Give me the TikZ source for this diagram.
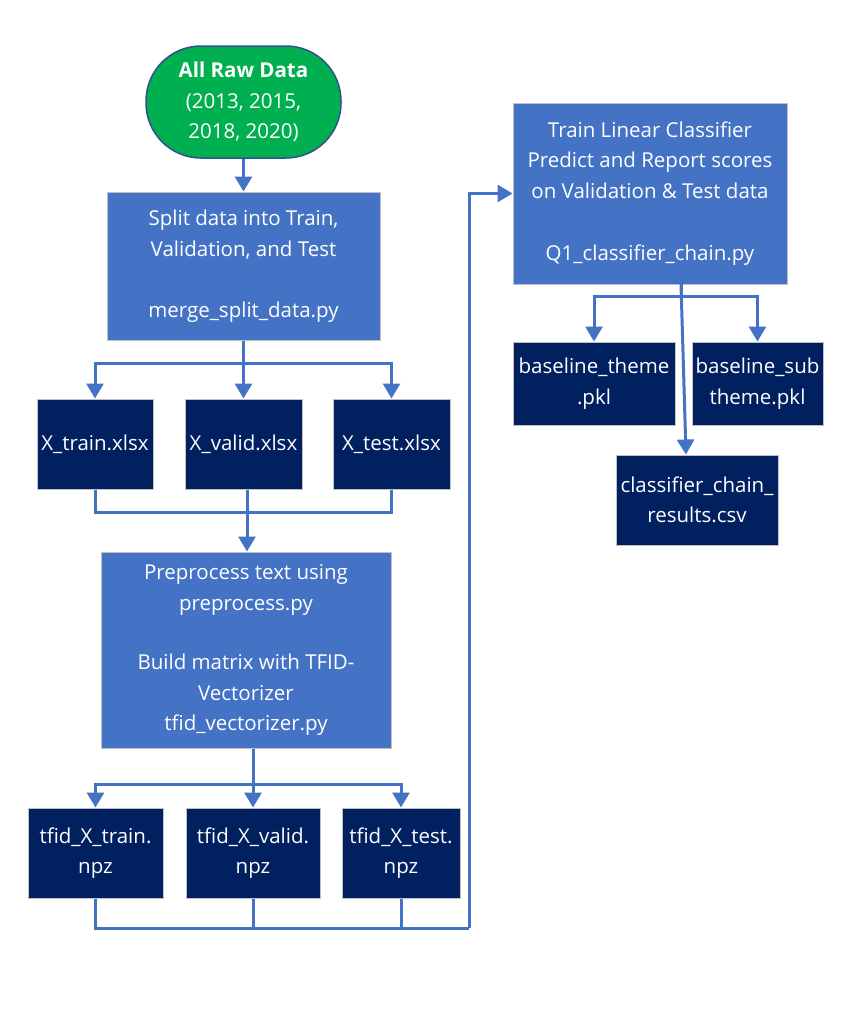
\documentclass[tikz,border=0pt]{standalone}
\usepackage{fontspec}
\setmainfont{Open Sans}
\usetikzlibrary{arrows.meta}
\definecolor{midblue}{HTML}{4472C4}
\definecolor{navy}{HTML}{002060}
\definecolor{greenfill}{HTML}{00B050}
\definecolor{stadborder}{HTML}{2F528F}
\definecolor{boxborder}{HTML}{C0C0C0}
\tikzset{
  txt/.style={text=white, align=center, font=\fontsize{20.5}{30.5}\selectfont, inner sep=0pt},
  startbox/.style={txt, draw=stadborder, line width=1.5pt, fill=greenfill, rounded corners=55pt},
  procbox/.style={txt, draw=boxborder, line width=1pt, fill=midblue},
  filebox/.style={txt, draw=boxborder, line width=1pt, fill=navy},
  conn/.style={draw=midblue, line width=3pt},
  arr/.style={conn, -{Triangle[width=17pt,length=15pt]}},
}
\begin{document}
\begin{tikzpicture}[x=1pt,y=-1pt]
\useasboundingbox[fill=white] (0,0) rectangle (850,1028);

% nodes
\node[startbox, minimum width=195pt, minimum height=112pt] (raw) at (243.5,102) {\textbf{All Raw Data}\\(2013, 2015,\\2018, 2020)};
\node[procbox, minimum width=273pt, minimum height=148pt] (split) at (243.5,266) {Split data into Train,\\Validation, and Test\\[30.5pt]merge\_split\_data.py};
\node[filebox, minimum width=116pt, minimum height=90pt] (xtrain) at (95,444) {X\_train.xlsx};
\node[filebox, minimum width=117pt, minimum height=90pt] (xvalid) at (243.5,444) {X\_valid.xlsx};
\node[filebox, minimum width=117pt, minimum height=90pt] (xtest) at (391.5,444) {X\_test.xlsx};
\node[procbox, minimum width=290pt, minimum height=196pt] (prep) at (246,650) {Preprocess text using\\preprocess.py\\[29pt]Build matrix with TFID-\\Vectorizer\\tfid\_vectorizer.py};
\node[filebox, minimum width=135pt, minimum height=90pt] (ttrain) at (95.5,853) {tfid\_X\_train.\\npz};
\node[filebox, minimum width=134pt, minimum height=90pt] (tvalid) at (253,853) {tfid\_X\_valid.\\npz};
\node[filebox, minimum width=118pt, minimum height=90pt] (ttest) at (401,853) {tfid\_X\_test.\\npz};
\node[procbox, minimum width=274pt, minimum height=181pt] (cls) at (650,193.5) {Train Linear Classifier\\Predict and Report scores\\on Validation \& Test data\\[31.5pt]Q1\_classifier\_chain.py};
\node[filebox, minimum width=162pt, minimum height=83pt] (btheme) at (594,383.5) {baseline\_theme\\.pkl};
\node[filebox, minimum width=131pt, minimum height=83pt] (bsub) at (757.5,383.5) {baseline\_sub\\theme.pkl};
\node[filebox, minimum width=162pt, minimum height=90pt] (res) at (697,500) {classifier\_chain\_\\results.csv};

% junction coordinates
\coordinate (j1) at (243.5,363);
\coordinate (j2) at (247,512);
\coordinate (j3) at (253,784);
\coordinate (j4) at (469,928);
\coordinate (j5) at (681,284);
\coordinate (j6) at (681,296);

% connectors
\draw[arr] (raw.south) -- (split.north);
\draw[conn] (split.south) -- (j1);
\draw[arr] (j1) -| (xtrain.north);
\draw[arr] (j1) -- (xvalid.north);
\draw[arr] (j1) -| (xtest.north);

\draw[conn] (xtrain.south) |- (j2);
\draw[conn] (xtest.south) |- (j2);
\draw[conn] (xvalid.south -| j2) -- (j2);
\draw[arr] (j2) -- (j2 |- prep.north);

\draw[conn] (j3 |- prep.south) -- (j3);
\draw[arr] (j3) -| (ttrain.north);
\draw[arr] (j3) -- (tvalid.north);
\draw[arr] (j3) -| (ttest.north);

\draw[conn] (ttrain.south) |- (j4);
\draw[conn] (tvalid.south) -- (tvalid.south |- j4);
\draw[conn] (ttest.south) -- (ttest.south |- j4);
\draw[arr] (j4) |- (cls.west);

\draw[conn] (j5) -- (j6);
\draw[arr] (j6) -| (btheme.north);
\draw[arr] (j6) -| (bsub.north);
\draw[arr] (j5) -- ([xshift=-11pt]res.north);
\end{tikzpicture}
\end{document}
